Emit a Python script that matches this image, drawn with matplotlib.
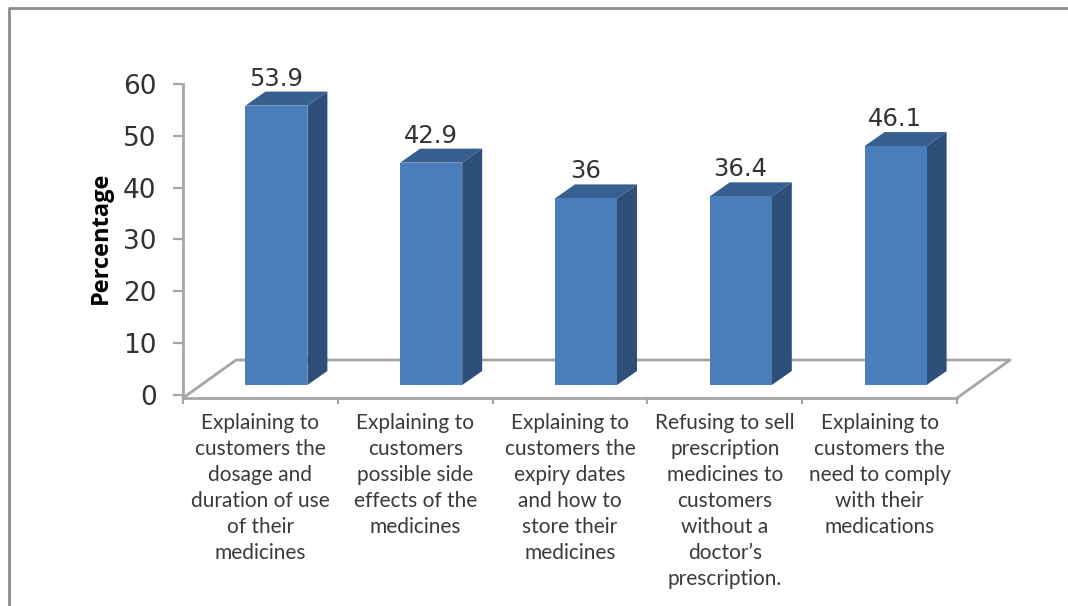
import matplotlib.pyplot as plt
from matplotlib.patches import Polygon
from matplotlib.lines import Line2D

W, H = 1068, 606

categories = [
    "Explaining to\ncustomers the\ndosage and\nduration of use\nof their\nmedicines",
    "Explaining to\ncustomers\npossible side\neffects of the\nmedicines",
    "Explaining to\ncustomers the\nexpiry dates\nand how to\nstore their\nmedicines",
    "Refusing to sell\nprescription\nmedicines to\ncustomers\nwithout a\ndoctor\u2019s\nprescription.",
    "Explaining to\ncustomers the\nneed to comply\nwith their\nmedications",
]
values = [53.9, 42.9, 36, 36.4, 46.1]
value_labels = ["53.9", "42.9", "36", "36.4", "46.1"]
y_ticks = [0, 10, 20, 30, 40, 50, 60]

# pixel layout of the fake 3d box
ax_left, ax_right = 183, 957
ax_top, ax_bottom = 84, 395
floor_front_y = 398
depth_px_x, depth_px_y = 20, 14
step_px = (ax_right - ax_left) / 5
px_per_unit = (ax_bottom - ax_top) / 60
dx = depth_px_x / step_px
dy = depth_px_y / px_per_unit
base = (ax_bottom - 385) / px_per_unit
bar_shift = 16 / step_px
bar_w = 62 / step_px

FRONT = "#4a7ebb"
TOP = "#375f8f"
SIDE = "#2f4f7b"
GRAY = "#a6a6a6"

fig = plt.figure(figsize=(W / 100, H / 100), dpi=100)
ax = fig.add_axes([ax_left / W, 1 - ax_bottom / H, (ax_right - ax_left) / W, (ax_bottom - ax_top) / H])
ax.set_xlim(-0.5, 4.5)
ax.set_ylim(0, 60)
for s in ax.spines.values():
    s.set_visible(False)

# outer frame of the pasted picture
fig.add_artist(Line2D([9 / W, 9 / W, 1068 / W], [0, 1 - 8 / H, 1 - 8 / H], color="#8c8c8c", lw=2))

# floor
fy = (ax_bottom - floor_front_y) / px_per_unit
back_y = (ax_bottom - 360) / px_per_unit
back_off = 53 / step_px
floor = [(-0.5, fy), (-0.5 + back_off, back_y), (4.5 + back_off, back_y), (4.5, fy)]
ax.plot([p[0] for p in floor], [p[1] for p in floor], color=GRAY, lw=2, clip_on=False, zorder=1)
ax.plot([-0.5, 4.5], [fy, fy], color=GRAY, lw=2, clip_on=False, zorder=1)
ax.plot([-0.5, -0.5], [fy, 60], color=GRAY, lw=2, clip_on=False, zorder=1)

# bars
for i, v in enumerate(values):
    x0 = i + bar_shift - bar_w / 2
    x1 = i + bar_shift + bar_w / 2
    top = base + v
    ax.add_patch(Polygon([(x0, top), (x0 + dx, top + dy), (x1 + dx, top + dy), (x1, top)],
                         closed=True, fc=TOP, ec="none", clip_on=False, zorder=3))
    ax.add_patch(Polygon([(x1, base), (x1 + dx, base + dy), (x1 + dx, top + dy), (x1, top)],
                         closed=True, fc=SIDE, ec="none", clip_on=False, zorder=3))
ax.bar([i + bar_shift for i in range(5)], values, width=bar_w, bottom=base, color=FRONT, zorder=4)

for i, v in enumerate(values):
    ax.text(i + bar_shift - 0.005, base + v + dy + 0.2, value_labels[i], ha="center", va="bottom",
            fontsize=17.5, color="#333333", family="DejaVu Sans", zorder=5)

# y axis
ax.set_yticks(y_ticks)
ax.tick_params(axis="y", length=7, width=1.6, color=GRAY, labelsize=19, labelcolor="#333333", pad=12)
ax.set_ylabel("Percentage", fontsize=17, fontweight="bold", family="Open Sans", color="black")
ax.yaxis.set_label_coords(-0.091, 0.507)

# x ticks at category boundaries, labels centred between them
ax.set_xticks([-0.5 + i for i in range(6)])
ax.set_xticklabels([])
ax.tick_params(axis="x", length=0)
for i in range(6):
    ax.plot([i - 0.5, i - 0.5], [fy, fy - 0.9], color=GRAY, lw=1.5, clip_on=False, zorder=1)
for i, c in enumerate(categories):
    ax.text(i, -3.5, c, ha="center", va="top", fontsize=15, family="Lato", color="#3a3a3a",
            linespacing=1.37)

fig.savefig("out.png", dpi=100)
